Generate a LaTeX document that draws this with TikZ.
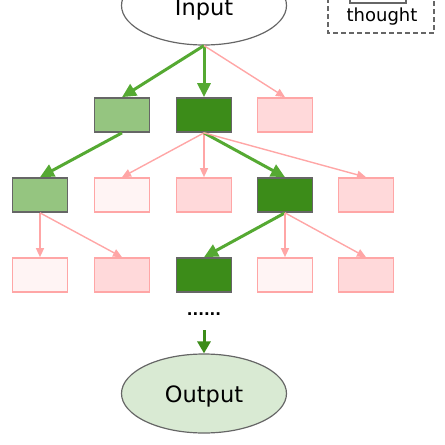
\documentclass[tikz,border=0pt]{standalone}
\usepackage{fontspec}
\setmainfont{DejaVu Sans}
\usetikzlibrary{positioning, arrows.meta, shapes.geometric}
\definecolor{dkgreen}{HTML}{3C8C19}
\definecolor{ltgreen}{HTML}{95C580}
\definecolor{argreen}{HTML}{55A932}
\definecolor{oval}{HTML}{D9EAD3}
\definecolor{pinkfill}{HTML}{FFD9DA}
\definecolor{palefill}{HTML}{FFF4F4}
\definecolor{pinkline}{HTML}{FFA6A6}
\definecolor{greyline}{HTML}{666666}
\tikzset{box/.style = {rectangle,minimum width=55pt,minimum height=34pt,inner sep=0pt,line width=1.7pt},
         best/.style = {box,draw=greyline,fill=dkgreen},
         good/.style = {box,draw=greyline,fill=ltgreen},
         bad/.style = {box,draw=pinkline,fill=pinkfill},
         pale/.style = {box,draw=pinkline,fill=palefill},
         oval/.style = {ellipse,draw=greyline,line width=1.2pt,minimum width=165pt,minimum height=79pt},
         big/.style = {font=\fontsize{22.5}{26}\selectfont},
         keep/.style = {-{Triangle[length=14pt,width=13pt]},argreen,line width=3pt},
         drop/.style = {-{Triangle[length=9pt,width=8pt]},pinkline,line width=1.4pt}}

\begin{document}
\begin{tikzpicture}[x=1pt, y=-1pt]
            \useasboundingbox (0,0) rectangle (445,445);
            \node[oval] (in) at (204,5.5) {};
            \node[big] (intxt) at (204,10) {Input};
            \node[oval,fill=oval] (out) at (204,393.5) {};
            \node[big] (outtxt) at (204,396) {Output};

            % legend
            \draw[dash pattern=on 5pt off 3pt,greyline,line width=1.2pt] (328,-10) rectangle (434,33);
            \node[box,draw=greyline,fill=white,minimum width=56pt,minimum height=20pt] (key) at (378,-7) {};
            \node[font=\fontsize{18}{20}\selectfont] (keytxt) at (382,17) {thought};

            \node[good] (a2) at (122,115) {};
            \node[best] (a3) at (204,115) {};
            \node[bad]  (a4) at (285,115) {};

            \node[good] (b1) at ( 40,195) {};
            \node[pale] (b2) at (122,195) {};
            \node[bad]  (b3) at (204,195) {};
            \node[best] (b4) at (285,195) {};
            \node[bad]  (b5) at (366,195) {};

            \node[pale] (c1) at ( 40,275) {};
            \node[bad]  (c2) at (122,275) {};
            \node[best] (c3) at (204,275) {};
            \node[pale] (c4) at (285,275) {};
            \node[bad]  (c5) at (366,275) {};

            \node[font=\bfseries\fontsize{15}{16}\selectfont,inner sep=0pt] (dots) at (204,314) {......};
            \coordinate (dotsend) at (204,330);

            \draw[keep] (in.south) -- (a2.north);
            \draw[keep] (in.south) -- (a3.north);
            \draw[drop] (in.south) -- (a4.north);
            \draw[keep] (a2.south) -- (b1.north);
            \draw[drop] (a3.south) -- (b2.north);
            \draw[drop] (a3.south) -- (b3.north);
            \draw[keep] (a3.south) -- (b4.north);
            \draw[drop] (a3.south) -- (b5.north);
            \draw[drop] (b1.south) -- (c1.north);
            \draw[drop] (b1.south) -- (c2.north);
            \draw[keep] (b4.south) -- (c3.north);
            \draw[drop] (b4.south) -- (c4.north);
            \draw[drop] (b4.south) -- (c5.north);
            \draw[-{Triangle[length=12pt,width=13pt]},dkgreen,line width=3pt] (dotsend) -- (out.north);
        \end{tikzpicture}
\end{document}
